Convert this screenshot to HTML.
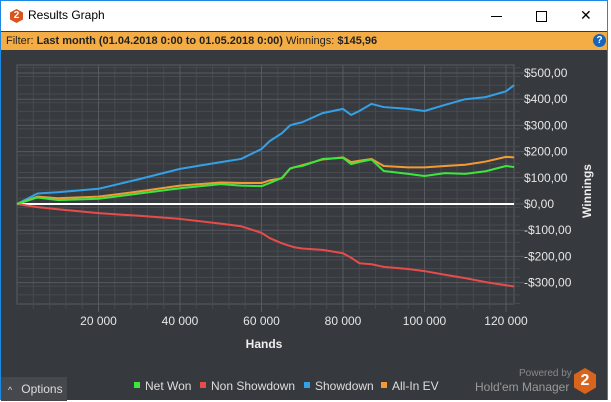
<!DOCTYPE html>
<html><head><meta charset="utf-8">
<style>
body{margin:0;width:611px;height:400px;overflow:hidden;background:#fff;font-family:"Liberation Sans",sans-serif;}
#win{position:absolute;left:0;top:0;width:608px;height:400px;background:#363a3e;border-left:1px solid #1e88e5;border-right:1px solid #1e88e5;border-top:1px solid #1e88e5;box-sizing:border-box;}
#title{position:absolute;left:0;top:0;width:100%;height:30px;background:#fff;}
#filter{position:absolute;left:0;top:31px;width:100%;height:18px;background:#f4ad45;font-size:11px;color:#222;line-height:18px;}
svg text{font-family:"Liberation Sans",sans-serif;}
</style></head><body>
<div id="win">
 <div id="title">
  <div style="position:absolute;left:9px;top:8px;width:13px;height:14px;background:#d9541e;clip-path:polygon(50% 0,100% 25%,100% 75%,50% 100%,0 75%,0 25%);color:#fff;font-size:10px;font-weight:bold;text-align:center;line-height:14px;">2</div>
  <div style="position:absolute;left:27px;top:7px;font-size:12px;color:#000;">Results Graph</div>
  <div style="position:absolute;left:490px;top:15px;width:11px;height:1px;background:#000;"></div>
  <div style="position:absolute;left:535px;top:10px;width:9px;height:9px;border:1px solid #000;"></div>
  <div style="position:absolute;left:579px;top:6px;font-size:14px;color:#000;">✕</div>
 </div>
 <div id="filter">
  <span style="margin-left:5px">Filter: <b>Last month (01.04.2018 0:00 to 01.05.2018 0:00)</b> Winnings: <b>$145,96</b></span>
  <div style="position:absolute;left:592px;top:2px;width:13px;height:13px;border-radius:50%;background:#1565c0;color:#fff;font-size:10px;font-weight:bold;text-align:center;line-height:13px;">?</div>
 </div>
 <svg id="chart" width="607" height="350" style="position:absolute;left:-1px;top:49px"></svg>
 <div style="position:absolute;left:0;top:376px;width:66px;height:24px;background:#45494d;color:#ddd;font-size:12px;line-height:24px;"><span style="margin-left:7px;font-size:9px">^</span><span style="margin-left:9px">Options</span></div>
 <div style="position:absolute;left:518px;top:367px;font-size:10px;color:#888;">Powered by</div>
 <div style="position:absolute;left:474px;top:379px;font-size:12px;color:#999;">Hold'em Manager</div>
 <div style="position:absolute;left:573px;top:367px;width:22px;height:26px;background:#d9641e;clip-path:polygon(50% 0,100% 25%,100% 75%,50% 100%,0 75%,0 25%);color:#fff;font-size:16px;font-weight:bold;text-align:center;line-height:26px;">2</div>
</div>
<script>
const hands=[0,5000,10000,20000,30000,40000,50000,55000,60000,62000,65000,67000,68000,70000,75000,80000,82000,84000,87000,90000,96000,100000,105000,110000,115000,120000,122000];
const showdown=[0,40,45,58,95,134,160,172,210,240,270,300,305,312,347,363,340,355,382,370,363,355,378,400,408,430,454];
const netWon=[0,25,15,20,40,60,76,70,68,80,100,135,140,145,172,176,152,160,170,126,115,107,118,115,125,145,141];
const allInEV=[0,28,22,28,48,70,82,80,80,90,98,135,140,148,170,178,160,165,172,145,140,140,145,150,162,180,178];
const nonShowdown=[0,-12,-20,-35,-45,-57,-75,-85,-110,-130,-150,-160,-165,-170,-175,-188,-205,-226,-230,-240,-248,-256,-270,-283,-298,-310,-315];
const xTicks=[20000,40000,60000,80000,100000,120000];
const yTicks=[500,400,300,200,100,0,-100,-200,-300];
const NS="http://www.w3.org/2000/svg";
const svg=document.getElementById('chart');
const oy=49;
const X0=17,X1=514,Y0=64-oy,Y1=303-oy;
const xS=v=>17+v*(81.5/20000);
const yS=v=>(203-oy)-v*0.262;
function mk(t,a){const e=document.createElementNS(NS,t);for(const k in a)e.setAttribute(k,a[k]);svg.appendChild(e);return e;}
let r=mk('rect',{x:X0,y:Y0,width:X1-X0,height:Y1-Y0,fill:'#373b3f',stroke:'#5a5e62'});


for(let v=-380;v<=530;v+=100/3){const y=yS(v);if(y<Y0||y>Y1)continue;
 const l=mk('line',{x1:X0,x2:X1+6,y1:y,y2:y,stroke:'#474b4f','stroke-width':1});
 
 }
for(let v=4000;v<=122000;v+=4000){const x=xS(v);
 const l=mk('line',{x1:x,x2:x,y1:Y0,y2:Y1+5,stroke:'#474b4f','stroke-width':1});
 
 }
yTicks.forEach(v=>{const y=yS(v);
 const l=mk('line',{x1:X0,x2:X1+10,y1:y,y2:y,stroke:'#575b5f','stroke-width':1});
 
 
 const t=mk('text',{x:524,y:y+4,fill:'#e6e6e6','font-size':12});
 t.textContent=(v<0?'-':'')+'$'+Math.abs(v)+',00';
 
 });
xTicks.forEach(v=>{const x=xS(v);
 const l=mk('line',{x1:x,x2:x,y1:Y0,y2:Y1+8,stroke:'#575b5f','stroke-width':1});
 
 
 const t=mk('text',{x:x,y:324-oy,fill:'#e6e6e6','font-size':12,'text-anchor':'middle'});
 t.textContent=String(v).replace(/(\d)(?=(\d{3})$)/,'$1 ');
 
 });
const z=mk('line',{x1:X0,x2:X1,y1:yS(0),y2:yS(0),stroke:'#fff','stroke-width':2});


function series(arr,col,name){
 const p=mk('polyline',{points:arr.map((v,i)=>xS(hands[i])+','+yS(v)).join(' '),fill:'none',stroke:col,'stroke-width':2,'stroke-linejoin':'round'});
 
 }
series(nonShowdown,'#e94b4b','non-showdown-line');
series(showdown,'#34a0e8','showdown-line');
series(allInEV,'#f39a34','all-in-ev-line');
series(netWon,'#3ce63c','net-won-line');
let t=mk('text',{x:264,y:347-oy,fill:'#eee','font-size':12,'font-weight':'bold','text-anchor':'middle'});
t.textContent='Hands';


t=mk('text',{x:0,y:0,fill:'#eee','font-size':12,'font-weight':'bold','text-anchor':'middle',transform:'translate(591,'+(190-oy)+') rotate(-90)'});
t.textContent='Winnings';


const leg=[['Net Won','#3ce63c',134],['Non Showdown','#e94b4b',200],['Showdown','#34a0e8',304],['All-In EV','#f39a34',381]];
leg.forEach(([n,c,x])=>{
 const s=mk('rect',{x:x,y:381-oy,width:6,height:6,fill:c});
 
 
 const tx=mk('text',{x:x+11,y:389-oy,fill:'#ddd','font-size':12});
 tx.textContent=n;
 
 });
</script>
</body></html>
